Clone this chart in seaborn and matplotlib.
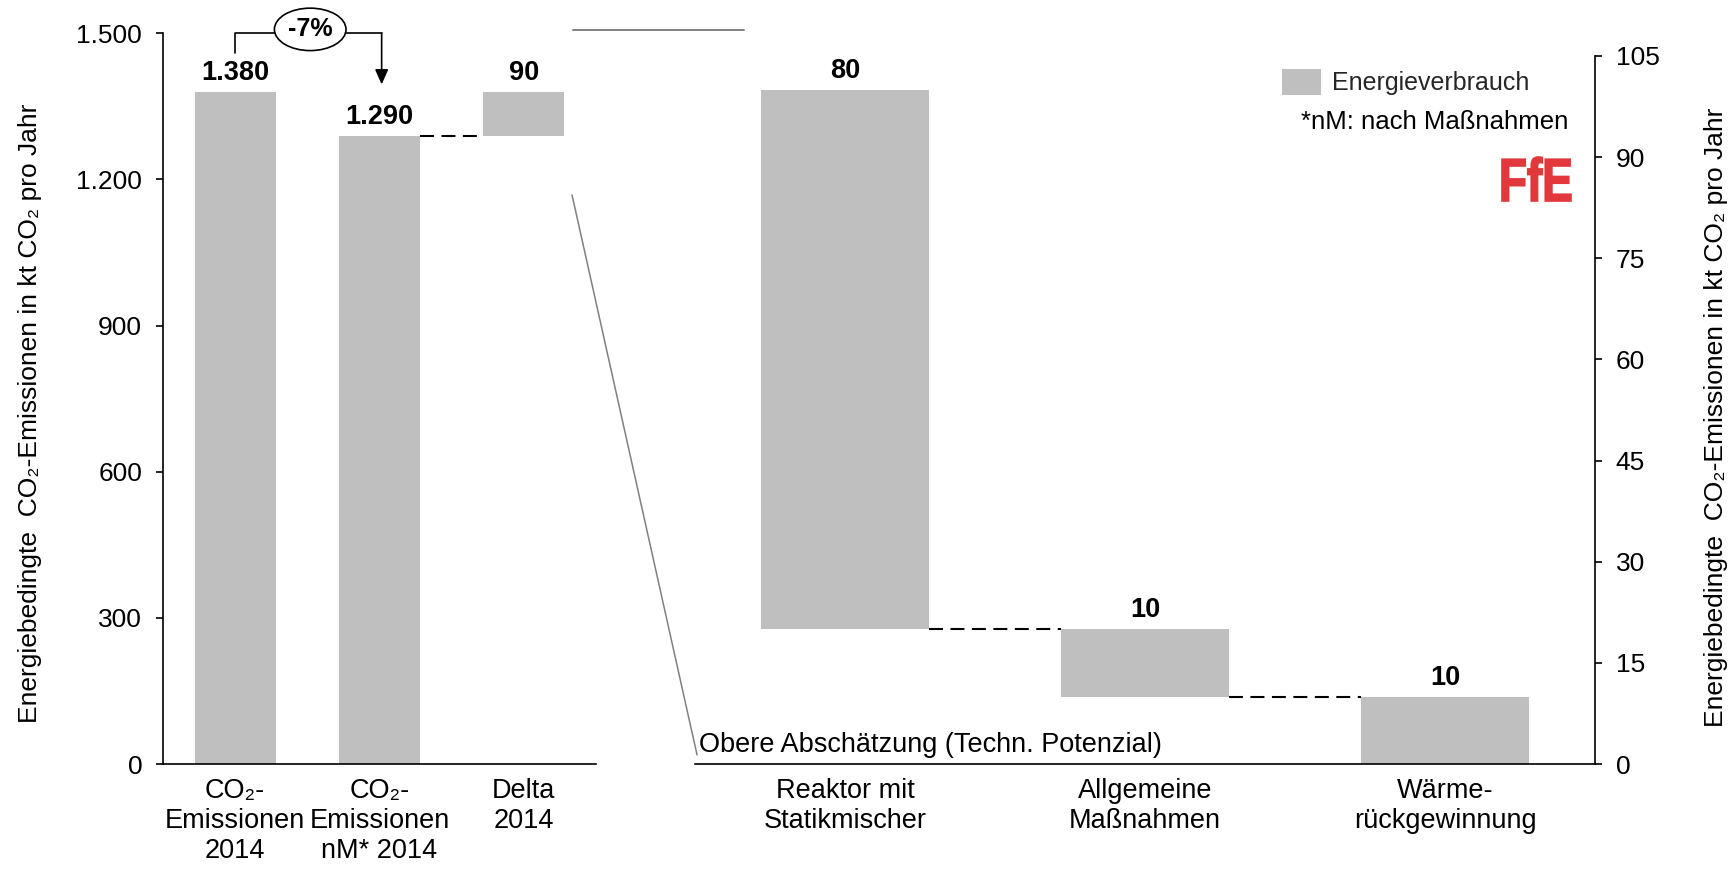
import numpy as np
import pandas as pd
import matplotlib
matplotlib.use("Agg")
import matplotlib.pyplot as plt
import seaborn as sns
from matplotlib.patches import Patch, PathPatch
from matplotlib.lines import Line2D
from matplotlib.textpath import TextPath
from matplotlib.font_manager import FontProperties
import matplotlib.transforms as mtransforms

# ---------------- data ----------------
left_categories = ["CO₂-\nEmissionen\n2014", "CO₂-\nEmissionen\nnM* 2014", "Delta\n2014"]
left_tops = [1380, 1290, 1380]
left_bottoms = [0, 0, 1290]
left_value_labels = ["1.380", "1.290", "90"]
left_yticks = [0, 300, 600, 900, 1200, 1500]
left_yticklabels = ["0", "300", "600", "900", "1.200", "1.500"]

right_categories = ["Reaktor mit\nStatikmischer", "Allgemeine\nMaßnahmen", "Wärme-\nrückgewinnung"]
right_tops = [100, 20, 10]
right_bottoms = [20, 10, 0]
right_value_labels = ["80", "10", "10"]
right_yticks = [0, 15, 30, 45, 60, 75, 90, 105]
right_yticklabels = ["0", "15", "30", "45", "60", "75", "90", "105"]

change_label = "-7%"
legend_label = "Energieverbrauch"
note_text = "*nM: nach Maßnahmen"
range_text = "Obere Abschätzung (Techn. Potenzial)"
ylabel_text = "Energiebedingte  CO₂-Emissionen in kt CO₂ pro Jahr"
logo_text = "FfE"

# ---------------- style ----------------
sns.set_style("ticks")
plt.rcParams["font.family"] = ["Liberation Sans", "DejaVu Sans"]
NARROW = ["Liberation Sans Narrow", "Liberation Sans", "DejaVu Sans"]
BAR = "#bfbfbf"
W = 0.56

fig = plt.figure(figsize=(17.34, 8.71), dpi=100)
axL = fig.add_axes([0.094, 0.1228, 0.2497, 0.839])
axR = fig.add_axes([0.4008, 0.1228, 0.519, 0.813])

left_heights = [t - b for t, b in zip(left_tops, left_bottoms)]
right_heights = [t - b for t, b in zip(right_tops, right_bottoms)]

sns.barplot(x=left_categories, y=left_heights, bottom=left_bottoms, color=BAR,
            saturation=1, width=W, errorbar=None, ax=axL, edgecolor="none")
sns.barplot(x=right_categories, y=right_heights, bottom=right_bottoms, color=BAR,
            saturation=1, width=W, errorbar=None, ax=axR, edgecolor="none")

# ---------- left axis formatting ----------
axL.set_xlim(-0.5, 2.5)
axL.set_ylim(0, 1500)
axL.set_yticks(left_yticks)
axL.set_yticklabels(left_yticklabels)
for s in ["top", "right"]:
    axL.spines[s].set_visible(False)
for s in ["left", "bottom"]:
    axL.spines[s].set_linewidth(1.2)
    axL.spines[s].set_color("black")
axL.tick_params(axis="y", length=5, width=1.2, labelsize=19, pad=10, colors="black")
axL.tick_params(axis="x", length=0, labelsize=19.5, pad=10, colors="black")
for lbl in axL.get_xticklabels():
    lbl.set_fontfamily(NARROW)
axL.set_xlabel("")
axL.set_ylabel(ylabel_text, fontsize=19, color="black")
axL.yaxis.set_label_coords(-0.28, 0.48)

for i, (t, lab) in enumerate(zip(left_tops, left_value_labels)):
    axL.text(i, t + 12, lab, ha="center", va="bottom", fontsize=19.5,
             fontweight="bold", family=NARROW, color="black", clip_on=False)

# dashed connector nM -> delta
dash = dict(color="black", lw=1.5, dashes=(6.7, 3.6), clip_on=False)
axL.plot([1 + W / 2, 2 - W / 2], [left_tops[1], left_tops[1]], **dash)

# bracket with -7%
br_y = 1500
axL.plot([0, 0, 1.015], [1459, br_y, br_y], color="black", lw=1.2, clip_on=False)
axL.annotate("", xy=(1.015, 1395), xytext=(1.015, br_y),
             arrowprops=dict(arrowstyle="-|>,head_length=0.9,head_width=0.4",
                             color="black", lw=1.2, shrinkA=0, shrinkB=0),
             annotation_clip=False)
axL.text(0.52, 1508, change_label, ha="center", va="center", fontsize=18,
         fontweight="bold", family=NARROW, color="black",
         bbox=dict(boxstyle="ellipse,pad=0.12", fc="white", ec="black", lw=1.2))

# ---------- right axis formatting ----------
axR.set_xlim(-0.5, 2.5)
axR.set_ylim(0, 105)
axR.yaxis.tick_right()
axR.yaxis.set_label_position("right")
axR.set_yticks(right_yticks)
axR.set_yticklabels(right_yticklabels)
for s in ["top", "left"]:
    axR.spines[s].set_visible(False)
for s in ["right", "bottom"]:
    axR.spines[s].set_linewidth(1.2)
    axR.spines[s].set_color("black")
axR.tick_params(axis="y", length=5, width=1.2, labelsize=19, pad=10, colors="black",
                left=False, right=True)
axR.tick_params(axis="x", length=0, labelsize=19.5, pad=10, colors="black")
for lbl in axR.get_xticklabels():
    lbl.set_fontfamily(NARROW)
axR.set_xlabel("")
axR.set_ylabel(ylabel_text, fontsize=19, color="black", rotation=90)
axR.yaxis.set_label_coords(1.121, 0.489)

for i, (t, lab) in enumerate(zip(right_tops, right_value_labels)):
    axR.text(i, t + 0.9, lab, ha="center", va="bottom", fontsize=19.5,
             fontweight="bold", family=NARROW, color="black", clip_on=False)

for i in range(len(right_categories) - 1):
    y = right_bottoms[i]
    axR.plot([i + W / 2, i + 1 - W / 2], [y, y], **dash)

axR.text(-0.488, 0.9, range_text, ha="left", va="bottom", fontsize=19.5,
         family=NARROW, color="black")

# legend + note
handle = Patch(facecolor=BAR, edgecolor="none")
axR.legend([handle], [legend_label], loc="center left", bbox_to_anchor=(0.652, 0.963),
           frameon=False, fontsize=18, handlelength=1.56, handleheight=1.2,
           handletextpad=0.45, borderaxespad=0, borderpad=0)
axR.text(0.97, 0.907, note_text, transform=axR.transAxes, ha="right", va="center",
         fontsize=18.5, color="black")

# FfE logo as condensed text path (pixel coordinates)
tp = TextPath((0, 0), logo_text, size=1,
              prop=FontProperties(family="Liberation Sans", weight="bold"))
ext = tp.get_extents()
target_w, target_h = 69.0, 44.0
sx = target_w / ext.width
sy = target_h / ext.height
logo_x, logo_base = 1502.0, 871 - 201.0
logo_tr = mtransforms.Affine2D().translate(-ext.x0, -ext.y0).scale(sx, sy).translate(logo_x, logo_base)
fig.add_artist(PathPatch(tp, transform=logo_tr, facecolor="#e2383b",
                         edgecolor="#e2383b", lw=1.2))

# zoom indicator lines (decoration)
gray = "#808080"
fig.add_artist(Line2D([0.3304, 0.4291], [0.9656, 0.9656], color=gray, lw=1.4,
                      transform=fig.transFigure))
fig.add_artist(Line2D([0.3299, 0.4020], [0.7761, 0.1332], color=gray, lw=1.1,
                      transform=fig.transFigure))

fig.savefig("out.png", dpi=100, facecolor="white")
